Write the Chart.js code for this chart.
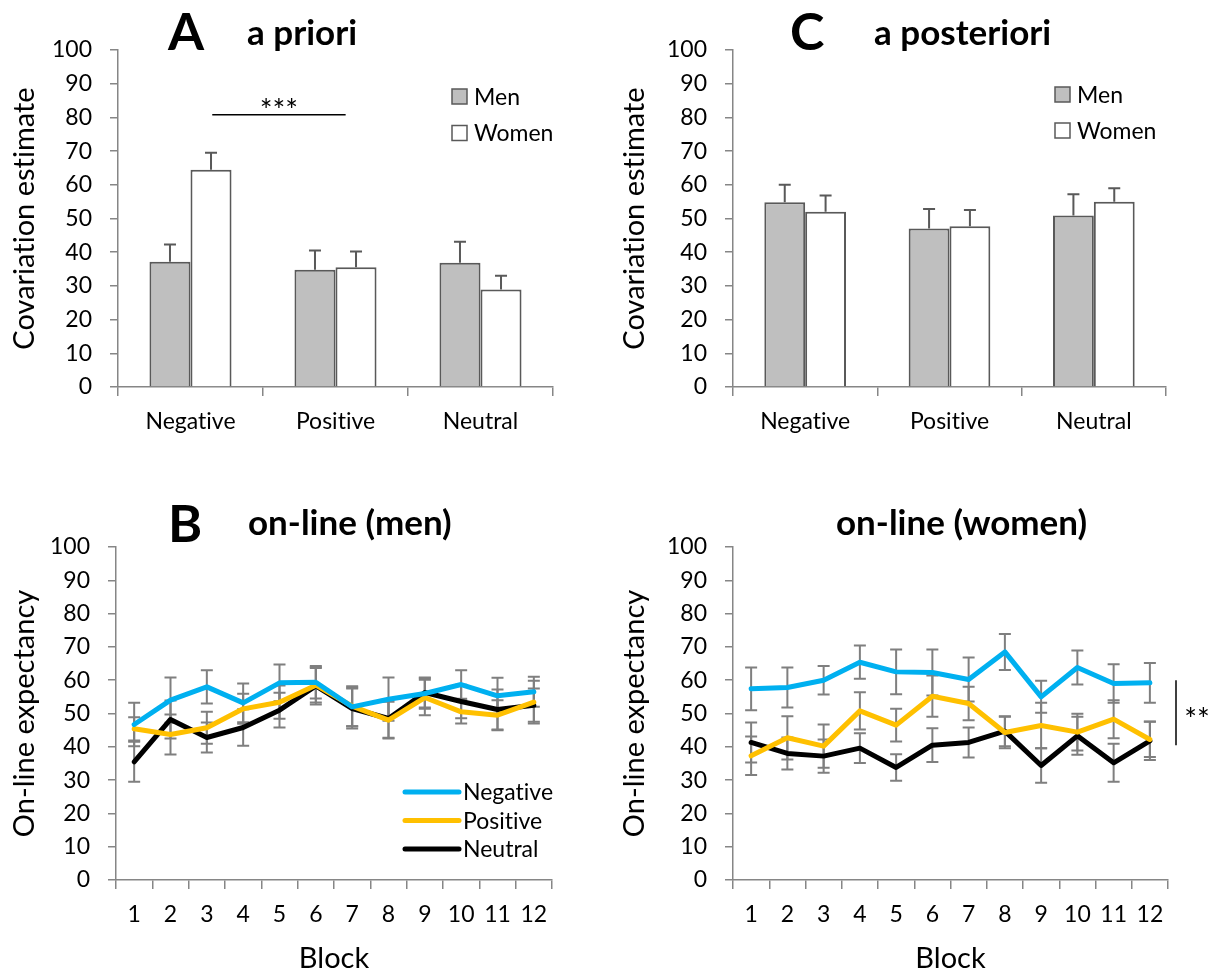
<!DOCTYPE html>
<html>
<head>
<meta charset="utf-8">
<script src="https://cdn.jsdelivr.net/npm/chart.js@4.4.1/dist/chart.umd.min.js"></script>
<style>
  body { margin: 0; background: #fff; }
  #fig { position: relative; width: 1217px; height: 971px; overflow: hidden; font-family: Lato, sans-serif; color: #000; font-variant-ligatures: none; }
  #fig canvas { position: absolute; }
  .letter { position: absolute; font-weight: 700; font-size: 52px; line-height: 1; }
  .ptitle { position: absolute; font-weight: 700; font-size: 35px; line-height: 1; white-space: nowrap; }
</style>
</head>
<body>
<div id="fig">
  <canvas id="chartA" width="600" height="480" style="left:0;top:0"></canvas>
  <canvas id="chartC" width="607" height="480" style="left:610px;top:0"></canvas>
  <canvas id="chartB" width="610" height="491" style="left:0;top:480px"></canvas>
  <canvas id="chartD" width="607" height="491" style="left:610px;top:480px"></canvas>

  <div class="letter" style="left:168px;top:4px">A</div>
  <div class="ptitle" style="left:247px;top:14px">a priori</div>
  <div class="letter" style="left:790px;top:4px">C</div>
  <div class="ptitle" style="left:874px;top:14px">a posteriori</div>
  <div class="letter" style="left:168px;top:496px">B</div>
  <div class="ptitle" style="left:248px;top:504px">on-line (men)</div>
  <div class="ptitle" style="left:836px;top:504px">on-line (women)</div>
</div>

<script>
// ---- data ----
const emotionCats = ["Negative", "Positive", "Neutral"];
const groupNames = ["Men", "Women"];

// a priori covariation estimates (mean, +SE)
const aprioriMen = [37.2, 34.8, 36.9];
const aprioriMenErr = [5.1, 5.7, 6.2];
const aprioriWomen = [64.5, 35.5, 28.9];
const aprioriWomenErr = [5.0, 4.7, 4.1];

// a posteriori covariation estimates
const posterioriMen = [54.8, 47.0, 50.9];
const posterioriMenErr = [5.2, 5.8, 6.3];
const posterioriWomen = [52.0, 47.7, 55.0];
const posterioriWomenErr = [4.8, 4.8, 4.0];

// on-line expectancy per block
const blocks = ["1", "2", "3", "4", "5", "6", "7", "8", "9", "10", "11", "12"];

const menNegative = [46.7, 54.0, 58.0, 53.2, 59.2, 59.4, 52.0, 54.3, 56.0, 58.7, 55.3, 56.5];
const menNegativeErr = [6.5, 6.8, 5.0, 5.8, 5.5, 4.9, 5.8, 6.5, 4.6, 4.3, 5.4, 4.5];
const menPositive = [45.4, 43.7, 45.7, 51.4, 53.4, 58.5, 52.2, 48.0, 54.8, 50.5, 49.5, 53.4];
const menPositiveErr = [3.5, 6.0, 4.8, 4.5, 5.0, 5.2, 6.0, 5.5, 5.3, 3.5, 4.5, 6.4];
const menNeutral = [35.5, 48.2, 42.8, 45.8, 51.0, 58.3, 51.5, 48.5, 56.3, 53.6, 51.2, 52.5];
const menNeutralErr = [6.0, 5.7, 4.5, 5.5, 5.2, 5.6, 6.0, 5.8, 4.5, 5.0, 6.0, 5.0];

const womenNegative = [57.4, 57.8, 60.0, 65.4, 62.5, 62.3, 60.2, 68.5, 55.0, 63.8, 59.0, 59.2];
const womenNegativeErr = [6.4, 6.0, 4.3, 5.0, 6.7, 6.9, 6.6, 5.4, 4.8, 5.1, 5.8, 6.0];
const womenPositive = [37.3, 42.7, 40.2, 50.8, 46.5, 55.2, 53.0, 44.3, 46.4, 44.4, 48.3, 42.2];
const womenPositiveErr = [5.8, 6.5, 6.5, 5.6, 4.9, 6.2, 5.0, 4.7, 6.8, 5.5, 5.7, 5.3];
const womenNeutral = [41.3, 38.0, 37.2, 39.6, 33.8, 40.5, 41.3, 44.7, 34.4, 43.3, 35.2, 41.8];
const womenNeutralErr = [6.0, 4.8, 5.0, 4.5, 4.0, 5.1, 4.5, 4.5, 5.2, 5.7, 5.7, 5.8];

// ---- styling ----
const AXIS_GRAY = "#868686";
const BAR_EDGE = "#595959";
const MEN_FILL = "#bfbfbf";
const WOMEN_FILL = "#ffffff";
const NEG_COLOR = "#00b0f0";
const POS_COLOR = "#ffc000";
const NEU_COLOR = "#000000";

// plain glyphs, no "ti" ligature
const noLigatures = {
  id: "noLigatures",
  beforeDraw(chart) {
    chart.ctx.textRendering = "optimizeSpeed";
    chart.ctx.fontVariantLigatures = "none";
  },
};

// error bars: drawn under the datasets, at each element's x
const errorBars = {
  id: "errorBars",
  beforeDatasetsDraw(chart, args, opts) {
    const ctx = chart.ctx;
    const y = chart.scales.y;
    const cap = opts.cap / 2;
    ctx.save();
    ctx.strokeStyle = opts.color;
    ctx.lineWidth = opts.width;
    chart.data.datasets.forEach((ds, i) => {
      if (!ds.errors) return;
      const meta = chart.getDatasetMeta(i);
      meta.data.forEach((el, j) => {
        const v = ds.data[j];
        const e = ds.errors[j];
        const top = y.getPixelForValue(v + e);
        const bot = opts.upOnly ? y.getPixelForValue(v) : y.getPixelForValue(v - e);
        ctx.beginPath();
        ctx.moveTo(el.x, top);
        ctx.lineTo(el.x, bot);
        ctx.moveTo(el.x - cap, top);
        ctx.lineTo(el.x + cap, top);
        if (!opts.upOnly) {
          ctx.moveTo(el.x - cap, bot);
          ctx.lineTo(el.x + cap, bot);
        }
        ctx.stroke();
      });
    });
    ctx.restore();
  },
};

// legend + significance markers drawn inside each panel
const panelMarks = {
  id: "panelMarks",
  afterDraw(chart, args, opts) {
    const ctx = chart.ctx;
    const area = chart.chartArea;
    const xs = chart.scales.x;
    const ys = chart.scales.y;
    ctx.save();
    ctx.font = "23px Lato";
    ctx.fillStyle = "#000";
    ctx.textBaseline = "alphabetic";

    const lg = opts.legend;
    if (lg) {
      chart.data.datasets.forEach((ds, i) => {
        const cy = area.top + lg.dy + i * lg.gap;
        if (lg.kind === "box") {
          ctx.fillStyle = ds.backgroundColor;
          ctx.fillRect(area.left + lg.dx, cy - 7.5, 15, 15);
          ctx.strokeStyle = ds.borderColor;
          ctx.lineWidth = 1.5;
          ctx.strokeRect(area.left + lg.dx, cy - 7.5, 15, 15);
        } else {
          ctx.strokeStyle = ds.borderColor;
          ctx.lineWidth = 5;
          ctx.lineCap = "round";
          ctx.beginPath();
          ctx.moveTo(area.left + lg.dx, cy);
          ctx.lineTo(area.left + lg.dx + lg.len, cy);
          ctx.stroke();
        }
        ctx.fillStyle = "#000";
        ctx.fillText(ds.label, area.left + lg.textDx, cy + 8);
      });
    }

    const sig = opts.sig;
    if (sig) {
      ctx.strokeStyle = "#000";
      ctx.lineWidth = 1.5;
      ctx.lineCap = "butt";
      ctx.textAlign = "center";
      ctx.font = "30px Lato";
      if (sig.kind === "h") {
        const catW = xs.getPixelForValue(1) - xs.getPixelForValue(0);
        const x0 = xs.getPixelForValue(0) + sig.from * catW;
        const x1 = xs.getPixelForValue(0) + sig.to * catW;
        const yy = ys.getPixelForValue(sig.at);
        ctx.beginPath();
        ctx.moveTo(x0, yy);
        ctx.lineTo(x1, yy);
        ctx.stroke();
        ctx.fillText(sig.text, (x0 + x1) / 2, yy + 6);
      } else {
        const xx = area.right + sig.dx;
        const y0 = ys.getPixelForValue(sig.from);
        const y1 = ys.getPixelForValue(sig.to);
        ctx.beginPath();
        ctx.moveTo(xx, y0);
        ctx.lineTo(xx, y1);
        ctx.stroke();
        ctx.fillText(sig.text, xx + sig.textDx, (y0 + y1) / 2 + 17);
      }
    }
    ctx.restore();
  },
};

function axisScales(yTitle, yWidth, xHeight, xTitle) {
  return {
    x: {
      offset: true,
      grid: { offset: true, drawOnChartArea: false, color: AXIS_GRAY, lineWidth: 1.5, tickLength: 9 },
      border: { color: AXIS_GRAY, width: 1.5 },
      ticks: { font: { size: 23 }, color: "#000", padding: 12, maxRotation: 0, autoSkip: false },
      title: xTitle
        ? { display: true, text: xTitle, color: "#000", font: { size: 29, lineHeight: 1 }, padding: { top: 0, bottom: -2 } }
        : { display: false },
      afterFit(s) { s.height = xHeight; },
    },
    y: {
      min: 0,
      max: 100,
      grid: { drawOnChartArea: false, color: AXIS_GRAY, lineWidth: 1.5, tickLength: 8 },
      border: { color: AXIS_GRAY, width: 1.5 },
      ticks: { stepSize: 10, font: { size: 23 }, color: "#000", padding: 18 },
      title: { display: true, text: yTitle, color: "#000", font: { size: 29, lineHeight: 1 }, padding: { top: 10, bottom: 0 } },
      afterFit(s) { s.width = yWidth; },
    },
  };
}

function barChart(id, men, menErr, women, womenErr, pad, yWidth, legend, sig) {
  return new Chart(document.getElementById(id), {
    type: "bar",
    data: {
      labels: emotionCats,
      datasets: [
        { label: groupNames[0], data: men, errors: menErr, backgroundColor: MEN_FILL, borderColor: BAR_EDGE, borderWidth: 2 },
        { label: groupNames[1], data: women, errors: womenErr, backgroundColor: WOMEN_FILL, borderColor: BAR_EDGE, borderWidth: 2 },
      ],
    },
    options: {
      responsive: false,
      animation: false,
      devicePixelRatio: 1,
      datasets: { bar: { categoryPercentage: 0.566, barPercentage: 1 } },
      layout: { padding: pad },
      plugins: {
        legend: { display: false },
        tooltip: { enabled: false },
        errorBars: { color: BAR_EDGE, width: 2, cap: 12, upOnly: true },
        panelMarks: { legend: legend, sig: sig },
      },
      scales: axisScales("Covariation estimate", yWidth, 93, null),
    },
    plugins: [noLigatures, errorBars, panelMarks],
  });
}

function lineChart(id, series, pad, yWidth, legend, sig) {
  const names = ["Negative", "Positive", "Neutral"];
  const colors = [NEG_COLOR, POS_COLOR, NEU_COLOR];
  return new Chart(document.getElementById(id), {
    type: "line",
    data: {
      labels: blocks,
      datasets: series.map((s, i) => ({
        label: names[i],
        data: s[0],
        errors: s[1],
        borderColor: colors[i],
        backgroundColor: colors[i],
        borderWidth: 5,
        borderJoinStyle: "round",
        borderCapStyle: "round",
        pointRadius: 0,
        tension: 0,
        fill: false,
      })),
    },
    options: {
      responsive: false,
      animation: false,
      devicePixelRatio: 1,
      layout: { padding: pad },
      plugins: {
        legend: { display: false },
        tooltip: { enabled: false },
        errorBars: { color: "#7f7f7f", width: 2, cap: 12, upOnly: false },
        panelMarks: { legend: legend, sig: sig },
      },
      scales: axisScales("On-line expectancy", yWidth, 91, "Block"),
    },
    plugins: [noLigatures, errorBars, panelMarks],
  });
}

function build() {
  Chart.defaults.font.family = "Lato";
  Chart.defaults.color = "#000";

  barChart("chartA", aprioriMen, aprioriMenErr, aprioriWomen, aprioriWomenErr,
    { top: 50, right: 47, left: 0, bottom: 0 }, 118,
    { kind: "box", dx: 334, textDx: 356, dy: 46.5, gap: 36.5 },
    { kind: "h", from: 0.15, to: 1.07, at: 80.8, text: "***" });

  barChart("chartC", posterioriMen, posterioriMenErr, posterioriWomen, posterioriWomenErr,
    { top: 50, right: 51, left: 0, bottom: 0 }, 123,
    { kind: "box", dx: 322, textDx: 344, dy: 44.5, gap: 36 },
    null);

  lineChart("chartB",
    [[menNegative, menNegativeErr], [menPositive, menPositiveErr], [menNeutral, menNeutralErr]],
    { top: 67, right: 58, left: 0, bottom: 0 }, 116,
    { kind: "line", dx: 289, len: 54, textDx: 347, dy: 245, gap: 28.5 },
    null);

  lineChart("chartD",
    [[womenNegative, womenNegativeErr], [womenPositive, womenPositiveErr], [womenNeutral, womenNeutralErr]],
    { top: 67, right: 49, left: 0, bottom: 0 }, 123,
    null,
    { kind: "v", dx: 8, from: 60, to: 40.5, textDx: 21, text: "**" });
}

if (document.fonts && document.fonts.load) {
  Promise.all([document.fonts.load("23px Lato"), document.fonts.load("bold 35px Lato")]).then(build, build);
} else {
  build();
}
</script>
</body>
</html>
